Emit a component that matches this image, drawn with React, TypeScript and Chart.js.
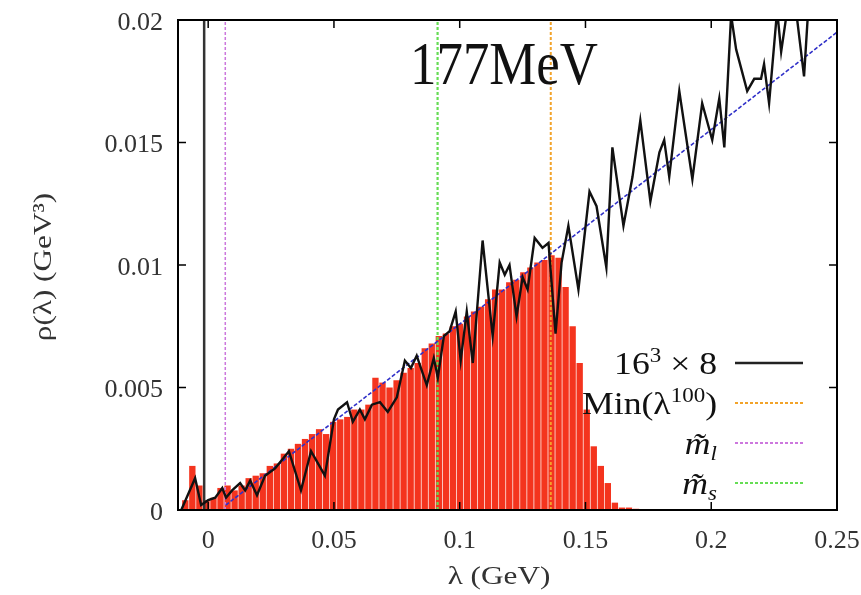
import React, { useEffect, useRef } from 'react';
import { Chart, registerables } from 'chart.js';

Chart.register(...registerables);

// ---------- data ----------
const binCenters = [
  -0.0091, -0.0063, -0.0035, -0.0007, 0.0021, 0.0049, 0.0077, 0.0105, 0.0133, 0.0161,
  0.0189, 0.0217, 0.0245, 0.0273, 0.0301, 0.0329, 0.0357, 0.0385, 0.0413, 0.0441,
  0.0469, 0.0497, 0.0525, 0.0553, 0.0581, 0.0609, 0.0637, 0.0665, 0.0693, 0.0721,
  0.0749, 0.0777, 0.0805, 0.0833, 0.0861, 0.0889, 0.0917, 0.0945, 0.0973, 0.1001,
  0.1029, 0.1057, 0.1085, 0.1113, 0.1141, 0.1169, 0.1197, 0.1225, 0.1253, 0.1281,
  0.1309, 0.1337, 0.1365, 0.1393, 0.1421, 0.1449, 0.1477, 0.1505, 0.1533, 0.1561,
  0.1589, 0.1617, 0.1645, 0.1673, 0.1701,
];
const binHeights = [
  0.0004, 0.0018, 0.0010, 0.0004, 0.0005, 0.0009, 0.0010, 0.0008, 0.0010, 0.0013,
  0.0014, 0.0015, 0.0018, 0.0019, 0.0023, 0.0025, 0.0027, 0.0029, 0.0031, 0.0033,
  0.0031, 0.0036, 0.0037, 0.0038, 0.0041, 0.0041, 0.0043, 0.0054, 0.0052, 0.0050,
  0.0053, 0.0056, 0.0058, 0.0060, 0.0066, 0.0068, 0.0071, 0.0072, 0.0075, 0.0076,
  0.0079, 0.0081, 0.0083, 0.0086, 0.0090, 0.0090, 0.0093, 0.0094, 0.0097, 0.0099,
  0.0101, 0.0102, 0.0104, 0.0103, 0.0091, 0.0075, 0.0060, 0.0041, 0.0026, 0.0018,
  0.0011, 0.0003, 0.0001, 0.0001, 0.00005,
];

// 16^3 x 8 spectral density (black line): [lambda, rho]
const latticeLine: [number, number][] = [
  [-0.0107, 0], [-0.0052, 0.0013], [-0.0028, 0.0002], [0.0, 0.0004], [0.0028, 0.0005],
  [0.0056, 0.0009], [0.0071, 0.0005], [0.0095, 0.0008], [0.0127, 0.0011], [0.0147, 0.0008],
  [0.0167, 0.0012], [0.0194, 0.0006], [0.0226, 0.0014], [0.0266, 0.0017], [0.0298, 0.0021],
  [0.0321, 0.0024], [0.0369, 0.0008], [0.0409, 0.0024], [0.0464, 0.0014], [0.05, 0.0037],
  [0.0516, 0.0041], [0.0552, 0.0044], [0.0575, 0.0036], [0.0603, 0.0041], [0.0623, 0.0037],
  [0.0651, 0.0043], [0.0683, 0.0044], [0.0714, 0.004], [0.075, 0.0046], [0.0782, 0.0061],
  [0.0806, 0.0058], [0.0829, 0.0063], [0.0869, 0.0051], [0.0897, 0.0062], [0.0913, 0.0054],
  [0.0937, 0.0071], [0.096, 0.0073], [0.0984, 0.0081], [0.1004, 0.0061], [0.1028, 0.0081],
  [0.1052, 0.006], [0.1091, 0.011], [0.1131, 0.0071], [0.1159, 0.0101], [0.1179, 0.0096],
  [0.1198, 0.01], [0.1226, 0.0079], [0.125, 0.0095], [0.127, 0.009], [0.1298, 0.0111],
  [0.1329, 0.0107], [0.1353, 0.0109], [0.1381, 0.0072], [0.1405, 0.0101], [0.1432, 0.0116],
  [0.1472, 0.009], [0.1516, 0.013], [0.1544, 0.0124], [0.1583, 0.0099], [0.1607, 0.0148],
  [0.1651, 0.0116], [0.1687, 0.0136], [0.1718, 0.0159], [0.1758, 0.0126], [0.1794, 0.0146],
  [0.1813, 0.0151], [0.1833, 0.0136], [0.1873, 0.0171], [0.1925, 0.0135], [0.1964, 0.0166],
  [0.2004, 0.0151], [0.2032, 0.0168], [0.2052, 0.0148], [0.2079, 0.0202], [0.2099, 0.0188],
  [0.2143, 0.0171], [0.2171, 0.0176], [0.2198, 0.0176], [0.221, 0.0182], [0.223, 0.0166],
  [0.2262, 0.0204], [0.2278, 0.0187], [0.2302, 0.0204], [0.233, 0.021], [0.2369, 0.0177],
  [0.2389, 0.021], [0.243, 0.022], [0.25, 0.022],
];

// free-field fit (blue dashed)
const fitLine: [number, number][] = [[0.007, 0.0002], [0.25, 0.0195]];

const zeroLineX = -0.0016;
const minLambdaX = 0.1362;
const mlX = 0.0068;
const msX = 0.0912;

const xTicks = [0, 0.05, 0.1, 0.15, 0.2, 0.25];
const xTickLabels = ['0', '0.05', '0.1', '0.15', '0.2', '0.25'];
const yTicks = [0, 0.005, 0.01, 0.015, 0.02];
const yTickLabels = ['0', '0.005', '0.01', '0.015', '0.02'];

const titleText = '177MeV';
const xTitle = 'λ (GeV)';
const yTitle = 'ρ(λ) (GeV³)';

const SERIF = "'Liberation Serif', 'DejaVu Serif', serif";
const RED = '#f4341e';
const BLUE = '#3030c8';
const ORANGE = '#f2a32a';
const MAGENTA = '#cc77dd';
const GREEN = '#66dd55';

type Part = { t: string; size: number; dy?: number; italic?: boolean };

function drawRich(ctx: CanvasRenderingContext2D, parts: Part[], rightX: number, baseY: number, sx: number) {
  const f = (p: Part) => `${p.italic ? 'italic ' : ''}${p.size}px ${SERIF}`;
  let total = 0;
  parts.forEach((p) => {
    ctx.font = f(p);
    total += ctx.measureText(p.t).width;
  });
  ctx.save();
  ctx.translate(rightX - total * sx, baseY);
  ctx.scale(sx, 1);
  let x = 0;
  ctx.textAlign = 'left';
  ctx.textBaseline = 'alphabetic';
  parts.forEach((p) => {
    ctx.font = f(p);
    ctx.fillText(p.t, x, p.dy || 0);
    x += ctx.measureText(p.t).width;
  });
  ctx.restore();
}

const legendRows: { parts: Part[]; color: string; dash: number[]; width: number }[] = [
  { parts: [{ t: '16', size: 31 }, { t: '3', size: 20, dy: -12 }, { t: ' × 8', size: 31 }], color: '#222', dash: [], width: 2.5 },
  { parts: [{ t: 'Min(λ', size: 31 }, { t: '100', size: 20, dy: -12 }, { t: ')', size: 31 }], color: ORANGE, dash: [3, 2], width: 2 },
  { parts: [{ t: 'm\u0303', size: 31, italic: true }, { t: 'l', size: 20, dy: 6, italic: true }], color: MAGENTA, dash: [3, 2], width: 2 },
  { parts: [{ t: 'm\u0303', size: 31, italic: true }, { t: 's', size: 20, dy: 6, italic: true }], color: GREEN, dash: [3, 2], width: 2 },
];

const decorPlugin = {
  id: 'decor',
  afterDraw(chart: any) {
    const ctx: CanvasRenderingContext2D = chart.ctx;
    const { left, right, top, bottom } = chart.chartArea;
    const xs = chart.scales.x;
    const ys = chart.scales.y;
    ctx.save();
    // frame
    ctx.strokeStyle = '#000';
    ctx.lineWidth = 2;
    ctx.setLineDash([]);
    ctx.strokeRect(left, top, right - left, bottom - top);
    // inward ticks
    ctx.lineWidth = 1.5;
    ctx.beginPath();
    xTicks.forEach((v) => {
      const px = xs.getPixelForValue(v);
      ctx.moveTo(px, bottom);
      ctx.lineTo(px, bottom - 8);
      ctx.moveTo(px, top);
      ctx.lineTo(px, top + 8);
    });
    yTicks.forEach((v) => {
      const py = ys.getPixelForValue(v);
      ctx.moveTo(left, py);
      ctx.lineTo(left + 8, py);
      ctx.moveTo(right, py);
      ctx.lineTo(right - 8, py);
    });
    ctx.stroke();

    // title
    ctx.fillStyle = '#111';
    ctx.font = `62px ${SERIF}`;
    ctx.textAlign = 'left';
    ctx.textBaseline = 'alphabetic';
    ctx.fillText(titleText, 410, 84, 188);

    // axis titles
    ctx.fillStyle = '#333';
    ctx.font = `26px ${SERIF}`;
    ctx.textAlign = 'center';
    ctx.textBaseline = 'middle';
    ctx.save();
    ctx.translate(499, 577);
    ctx.scale(1.2, 1);
    ctx.fillText(xTitle, 0, 0);
    ctx.restore();
    ctx.save();
    ctx.translate(44, 267);
    ctx.rotate(-Math.PI / 2);
    ctx.scale(1.2, 1);
    ctx.fillText(yTitle, 0, 0);
    ctx.restore();

    // legend
    const rowY = [363, 403, 443, 483];
    legendRows.forEach((row, i) => {
      ctx.fillStyle = '#111';
      drawRich(ctx, row.parts, 717, rowY[i] + 11, 1.15);
      ctx.strokeStyle = row.color;
      ctx.lineWidth = row.width;
      ctx.setLineDash(row.dash);
      ctx.beginPath();
      ctx.moveTo(735, rowY[i]);
      ctx.lineTo(803, rowY[i]);
      ctx.stroke();
    });
    ctx.restore();
  },
};

const toXY = (pts: [number, number][]) => pts.map(([x, y]) => ({ x, y }));

export default function App() {
  const ref = useRef<HTMLCanvasElement | null>(null);
  useEffect(() => {
    if (!ref.current) return;
    const vline = (x: number) => [{ x, y: 0 }, { x, y: 0.02 }];
    const chart = new Chart(ref.current, {
      type: 'bar',
      data: {
        datasets: [
          {
            type: 'line',
            label: '16^3 x 8',
            data: toXY(latticeLine),
            borderColor: '#111',
            borderWidth: 2.4,
            pointRadius: 0,
            tension: 0,
            order: 1,
          } as any,
          {
            type: 'line',
            label: 'fit',
            data: toXY(fitLine),
            borderColor: BLUE,
            borderWidth: 1.6,
            borderDash: [4, 2],
            pointRadius: 0,
            order: 2,
          } as any,
          {
            type: 'line',
            label: 'Min',
            data: vline(minLambdaX),
            borderColor: ORANGE,
            borderWidth: 2,
            borderDash: [3, 2],
            pointRadius: 0,
            order: 3,
          } as any,
          {
            type: 'line',
            label: 'ml',
            data: vline(mlX),
            borderColor: MAGENTA,
            borderWidth: 1.5,
            borderDash: [3, 2],
            pointRadius: 0,
            order: 3,
          } as any,
          {
            type: 'line',
            label: 'ms',
            data: vline(msX),
            borderColor: GREEN,
            borderWidth: 2.2,
            borderDash: [3, 2],
            pointRadius: 0,
            order: 3,
          } as any,
          {
            type: 'line',
            label: 'zero',
            data: vline(zeroLineX),
            borderColor: '#333',
            borderWidth: 2.5,
            pointRadius: 0,
            order: 3,
          } as any,
          {
            type: 'bar',
            label: 'hist',
            data: binCenters.map((x, i) => ({ x, y: binHeights[i] })),
            backgroundColor: RED,
            borderWidth: 0,
            barPercentage: 0.9,
            categoryPercentage: 1,
            order: 10,
          } as any,
        ],
      },
      options: {
        responsive: false,
        animation: false,
        layout: { padding: { left: 0, right: 24, top: 20, bottom: 0 } },
        plugins: { legend: { display: false }, tooltip: { enabled: false }, title: { display: false } },
        scales: {
          x: {
            type: 'linear',
            min: -0.012,
            max: 0.25,
            offset: false,
            grid: { display: false, drawTicks: false },
            border: { display: false },
            afterBuildTicks: (s: any) => {
              s.ticks = xTicks.map((v) => ({ value: v }));
            },
            afterFit: (s: any) => {
              s.height = 85;
              s.paddingLeft = 0;
              s.paddingRight = 0;
            },
            ticks: {
              autoSkip: false,
              maxRotation: 0,
              padding: 16,
              color: '#333',
              font: { family: SERIF, size: 26 },
              callback: (v: any) => {
                const i = xTicks.findIndex((t) => Math.abs(t - Number(v)) < 1e-9);
                return i >= 0 ? xTickLabels[i] : '';
              },
            },
          },
          y: {
            type: 'linear',
            min: 0,
            max: 0.02,
            grid: { display: false, drawTicks: false },
            border: { display: false },
            afterBuildTicks: (s: any) => {
              s.ticks = yTicks.map((v) => ({ value: v }));
            },
            afterFit: (s: any) => {
              s.width = 178;
              s.paddingTop = 0;
              s.paddingBottom = 0;
            },
            ticks: {
              padding: 15,
              labelOffset: 3,
              color: '#333',
              font: { family: SERIF, size: 26 },
              callback: (v: any) => {
                const i = yTicks.findIndex((t) => Math.abs(t - Number(v)) < 1e-9);
                return i >= 0 ? yTickLabels[i] : '';
              },
            },
          },
        },
      },
      plugins: [decorPlugin],
    } as any);
    return () => chart.destroy();
  }, []);

  return (
    <div style={{ position: 'absolute', left: 0, top: 0, width: 861, height: 595, background: '#fff' }}>
      <canvas ref={ref} width={861} height={595} style={{ display: 'block', width: 861, height: 595 }} />
    </div>
  );
}
